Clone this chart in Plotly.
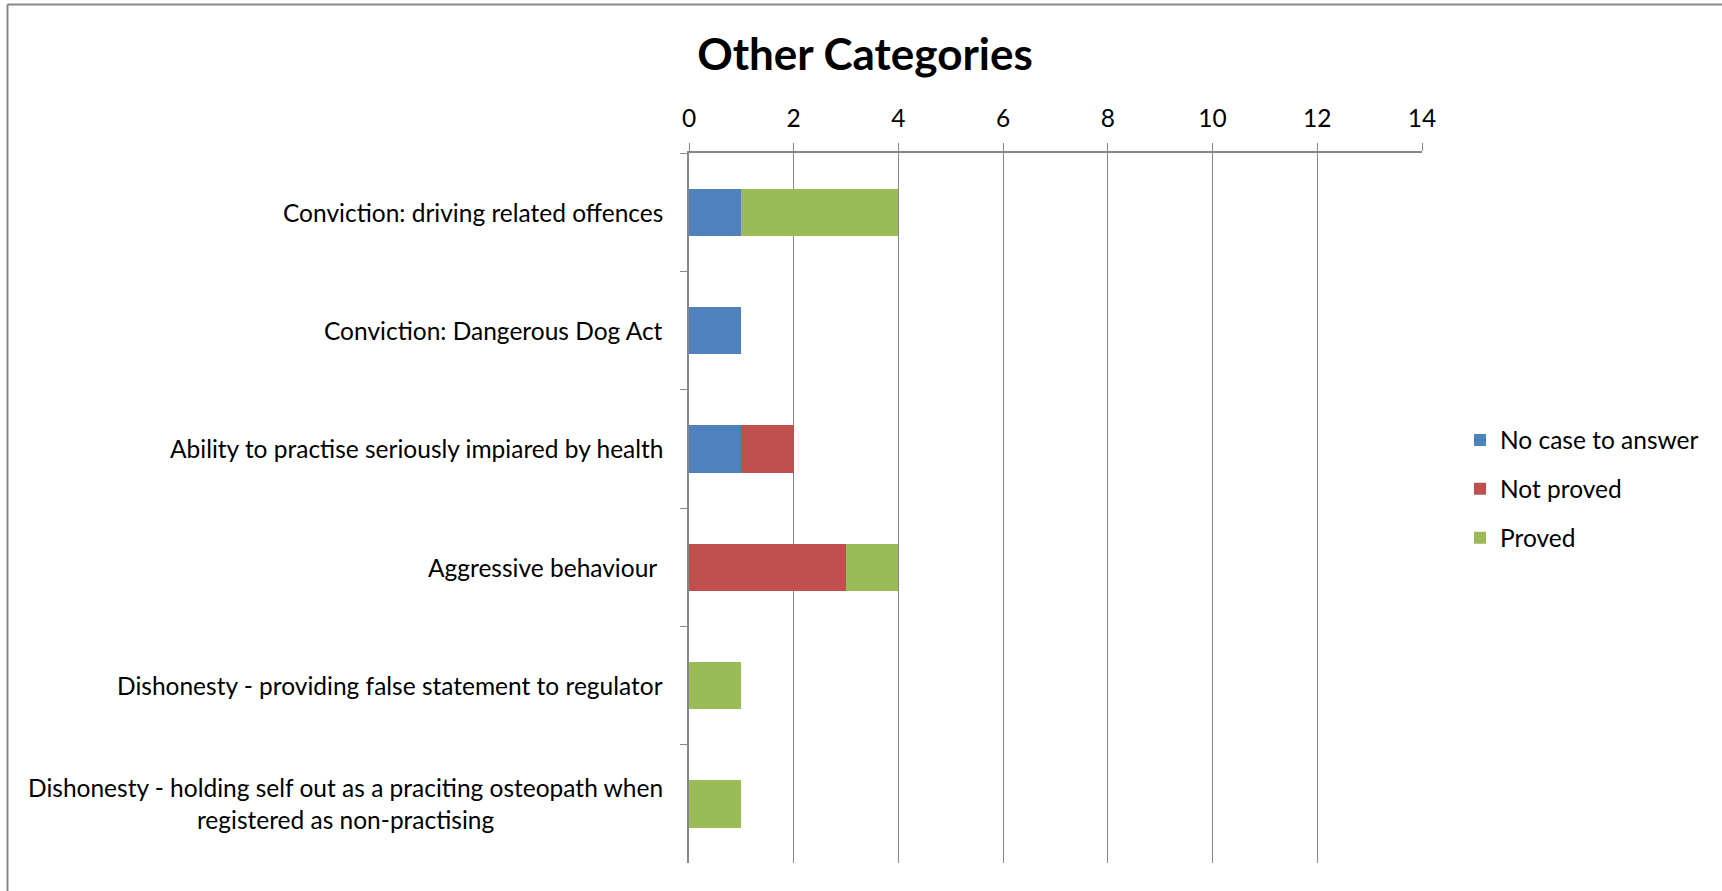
import plotly.graph_objects as go

# Data
categories = [
    "Conviction: driving related offences",
    "Conviction: Dangerous Dog Act",
    "Ability to practise seriously impiared by health",
    "Aggressive behaviour ",
    "Dishonesty - providing false statement to regulator",
    "Dishonesty - holding self out as a praciting osteopath when<br>registered as non-practising",
]
no_case_to_answer = [1, 1, 1, 0, 0, 0]
not_proved = [0, 0, 1, 3, 0, 0]
proved = [3, 0, 0, 1, 1, 1]
x_ticks = [0, 2, 4, 6, 8, 10, 12, 14]

series = [
    ("No case to answer", no_case_to_answer, "#4F81BD"),
    ("Not proved", not_proved, "#C0504D"),
    ("Proved", proved, "#9BBB59"),
]

# Layout geometry (pixels)
W, H = 1722, 891
L, R, T, B = 689, 300, 153, 28
PW, PH = W - L - R, H - T - B
FONT = "Lato"
FS = 24.5
GRID = "#868686"


def px_x(p):
    return (p - L) / PW


def px_y(p):
    return (H - B - p) / PH


fig = go.Figure()
for i, (name, vals, color) in enumerate(series):
    fig.add_trace(go.Bar(
        y=categories, x=vals, name=name, orientation="h",
        marker=dict(color=color, line=dict(width=0)),
        legendgroup=f"g{i}",
    ))

# Category labels, right-aligned against the axis with centered line wrapping
for cat in categories:
    fig.add_annotation(
        x=px_x(665), xref="paper", xanchor="right",
        y=cat, yref="y", yanchor="middle",
        text=cat, showarrow=False, align="center",
        font=dict(family=FONT, size=FS, color="#000000"),
    )

# Chart frame (top and left edges)
fig.add_shape(type="line", xref="paper", yref="paper",
              x0=px_x(7.5), x1=px_x(W + 5), y0=px_y(4.5), y1=px_y(4.5),
              line=dict(color="#878787", width=2))
fig.add_shape(type="line", xref="paper", yref="paper",
              x0=px_x(7.5), x1=px_x(7.5), y0=px_y(4.5), y1=px_y(H + 5),
              line=dict(color="#878787", width=2))

fig.update_layout(
    width=W, height=H,
    margin=dict(l=L, r=R, t=T, b=B, pad=0),
    barmode="stack", bargap=0.60,
    paper_bgcolor="white", plot_bgcolor="white",
    font=dict(family=FONT, size=FS, color="#000000"),
    title=dict(text="<b>Other Categories</b>", x=865 / W, xanchor="center",
               y=1 - 55 / H, yanchor="middle", yref="container",
               font=dict(family=FONT, size=44, color="#000000")),
    legend=dict(x=px_x(1460), xanchor="left", y=px_y(489), yanchor="middle",
                traceorder="grouped", tracegroupgap=14,
                font=dict(family=FONT, size=FS, color="#000000"),
                bgcolor="rgba(0,0,0,0)"),
    xaxis=dict(side="top", range=[0, 14], tickvals=x_ticks,
               showgrid=True, gridcolor=GRID, gridwidth=1.3,
               showline=True, linecolor=GRID, linewidth=2,
               ticks="outside", ticklen=8, tickcolor=GRID, tickwidth=1.3,
               ticklabelstandoff=6,
               zeroline=False, fixedrange=True,
               tickfont=dict(family=FONT, size=FS, color="#000000")),
    yaxis=dict(autorange="reversed", showticklabels=False,
               showline=True, linecolor=GRID, linewidth=1.5,
               ticks="outside", ticklen=7, tickcolor=GRID, tickwidth=1.3,
               tickson="boundaries", showgrid=False, fixedrange=True),
)

fig.write_html("out.html")
